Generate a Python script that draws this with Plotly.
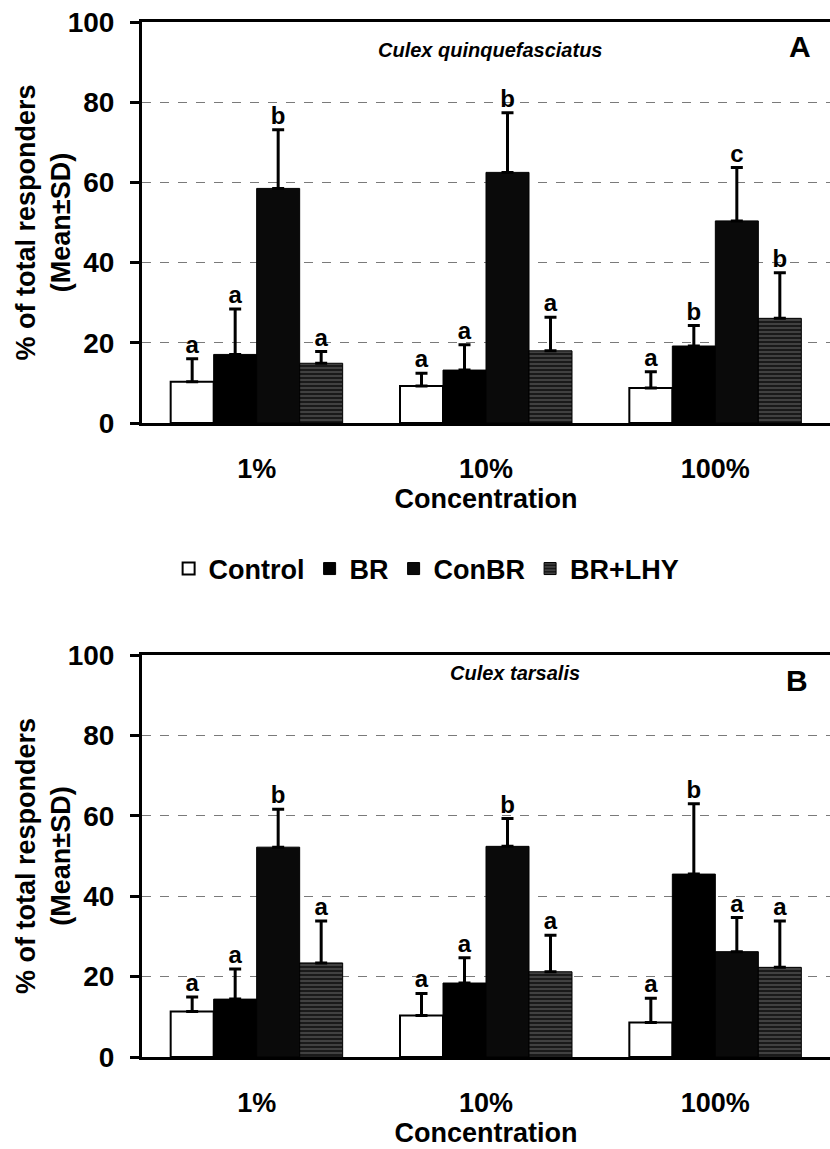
import plotly.graph_objects as go
from plotly.subplots import make_subplots

concentrations = ["1%", "10%", "100%"]
series = ["Control", "BR", "ConBR", "BR+LHY"]

# Panel A: Culex quinquefasciatus
a_mean = {
    "Control": [10.3, 9.2, 8.7],
    "BR": [17.1, 13.2, 19.2],
    "ConBR": [58.5, 62.5, 50.4],
    "BR+LHY": [14.9, 18.0, 26.1],
}
a_sd = {
    "Control": [5.7, 3.2, 4.1],
    "BR": [11.3, 6.3, 5.1],
    "ConBR": [14.6, 14.9, 13.3],
    "BR+LHY": [2.9, 8.4, 11.4],
}
a_letters = {
    "Control": ["a", "a", "a"],
    "BR": ["a", "a", "b"],
    "ConBR": ["b", "b", "c"],
    "BR+LHY": ["a", "a", "b"],
}

# Panel B: Culex tarsalis
b_mean = {
    "Control": [11.3, 10.3, 8.6],
    "BR": [14.4, 18.4, 45.5],
    "ConBR": [52.2, 52.4, 26.2],
    "BR+LHY": [23.4, 21.2, 22.3],
}
b_sd = {
    "Control": [3.6, 5.5, 6.0],
    "BR": [7.5, 6.3, 17.5],
    "ConBR": [9.4, 6.9, 8.5],
    "BR+LHY": [10.4, 9.1, 11.5],
}
b_letters = {
    "Control": ["a", "a", "a"],
    "BR": ["a", "a", "b"],
    "ConBR": ["b", "b", "a"],
    "BR+LHY": ["a", "a", "a"],
}

y_ticks = [0, 20, 40, 60, 80, 100]

FONT = "Liberation Sans, Arial, sans-serif"

styles = {
    "Control": dict(color="white", line=dict(color="black", width=2)),
    "BR": dict(color="black", line=dict(color="black", width=1)),
    "ConBR": dict(color="#0a0a0a", line=dict(color="black", width=1)),
    "BR+LHY": dict(color="#1a1a1a", line=dict(color="black", width=1),
                   pattern=dict(shape="-", fgcolor="#8a8a8a", size=4, solidity=0.35)),
}

fig = make_subplots(rows=2, cols=1)

W, H = 830, 1149
xdom = [142 / W, 1.0]
ydomA = [1 - 423 / H, 1 - 22 / H]
ydomB = [1 - 1057 / H, 1 - 655 / H]

for row, means, sds, letters in [(1, a_mean, a_sd, a_letters), (2, b_mean, b_sd, b_letters)]:
    for s in series:
        fig.add_trace(go.Bar(
            x=concentrations, y=means[s], name=s, offsetgroup=s,
            marker=styles[s], showlegend=(row == 1), legendgroup=s,
            error_y=dict(type="data", array=sds[s], arrayminus=[0] * len(sds[s]),
                         symmetric=False, color="black", thickness=3, width=6),
        ), row=row, col=1)
    for s in series:
        tops = [m + d for m, d in zip(means[s], sds[s])]
        fig.add_trace(go.Scatter(
            x=concentrations, y=tops, mode="text", text=letters[s],
            textposition="top center", offsetgroup=s, showlegend=False,
            textfont=dict(family=FONT, size=24, color="black", weight="bold"),
            hoverinfo="skip",
        ), row=row, col=1)

axis_common_y = dict(
    range=[0, 100], tickvals=y_ticks, showgrid=True, gridcolor="#7a7a7a",
    griddash="dash", gridwidth=1, zeroline=False, showline=True, linecolor="black",
    linewidth=3, mirror=True, ticks="outside", ticklen=9, tickwidth=3,
    tickcolor="black", ticklabelstandoff=10, automargin=False,
    tickfont=dict(family=FONT, size=28, color="black", weight="bold"),
)
axis_common_x = dict(
    showline=True, linecolor="black", linewidth=3, mirror=True, ticks="",
    showgrid=False, ticklabelstandoff=20, automargin=False,
    tickfont=dict(family=FONT, size=27, color="black", weight="bold"),
    title=dict(text="Concentration", standoff=4,
               font=dict(family=FONT, size=27, color="black", weight="bold")),
)

fig.update_layout(
    xaxis=dict(domain=xdom, **axis_common_x),
    xaxis2=dict(domain=xdom, **axis_common_x),
    yaxis=dict(domain=ydomA, **axis_common_y),
    yaxis2=dict(domain=ydomB, **axis_common_y),
)

fig.update_layout(
    width=W, height=H,
    margin=dict(l=0, r=0, t=0, b=0, autoexpand=False),
    paper_bgcolor="white", plot_bgcolor="white",
    barmode="group", bargap=0.25, bargroupgap=0,
    scattermode="group", scattergap=0.25,
    font=dict(family=FONT, color="black"),
    legend=dict(
        orientation="h", x=0.514, xanchor="center", y=1 - 569 / H, yanchor="middle",
        font=dict(family=FONT, size=27, color="black", weight="bold"),
        itemwidth=30, tracegroupgap=0, bgcolor="rgba(0,0,0,0)",
    ),
)

ann = []
ytitle = "% of total responders<br>(Mean±SD)"
for yc in [(ydomA[0] + ydomA[1]) / 2, (ydomB[0] + ydomB[1]) / 2]:
    ann.append(dict(text=ytitle, x=43 / W, y=yc, xref="paper", yref="paper",
                    textangle=-90, showarrow=False, xanchor="center", yanchor="middle",
                    font=dict(family=FONT, size=27, color="black", weight="bold")))
ann.append(dict(text="Culex quinquefasciatus", x=490 / W, y=1 - 50 / H, xref="paper", yref="paper",
                xanchor="center", yanchor="middle", showarrow=False,
                font=dict(family=FONT, size=20, color="black", weight="bold", style="italic")))
ann.append(dict(text="A", x=800 / W, y=1 - 46 / H, xref="paper", yref="paper",
                xanchor="center", yanchor="middle", showarrow=False,
                font=dict(family=FONT, size=30, color="black", weight="bold")))
ann.append(dict(text="Culex tarsalis", x=515 / W, y=1 - 673 / H, xref="paper", yref="paper",
                xanchor="center", yanchor="middle", showarrow=False,
                font=dict(family=FONT, size=20, color="black", weight="bold", style="italic")))
ann.append(dict(text="B", x=797 / W, y=1 - 680 / H, xref="paper", yref="paper",
                xanchor="center", yanchor="middle", showarrow=False,
                font=dict(family=FONT, size=30, color="black", weight="bold")))
fig.update_layout(annotations=ann)

fig.write_html("out.html")
